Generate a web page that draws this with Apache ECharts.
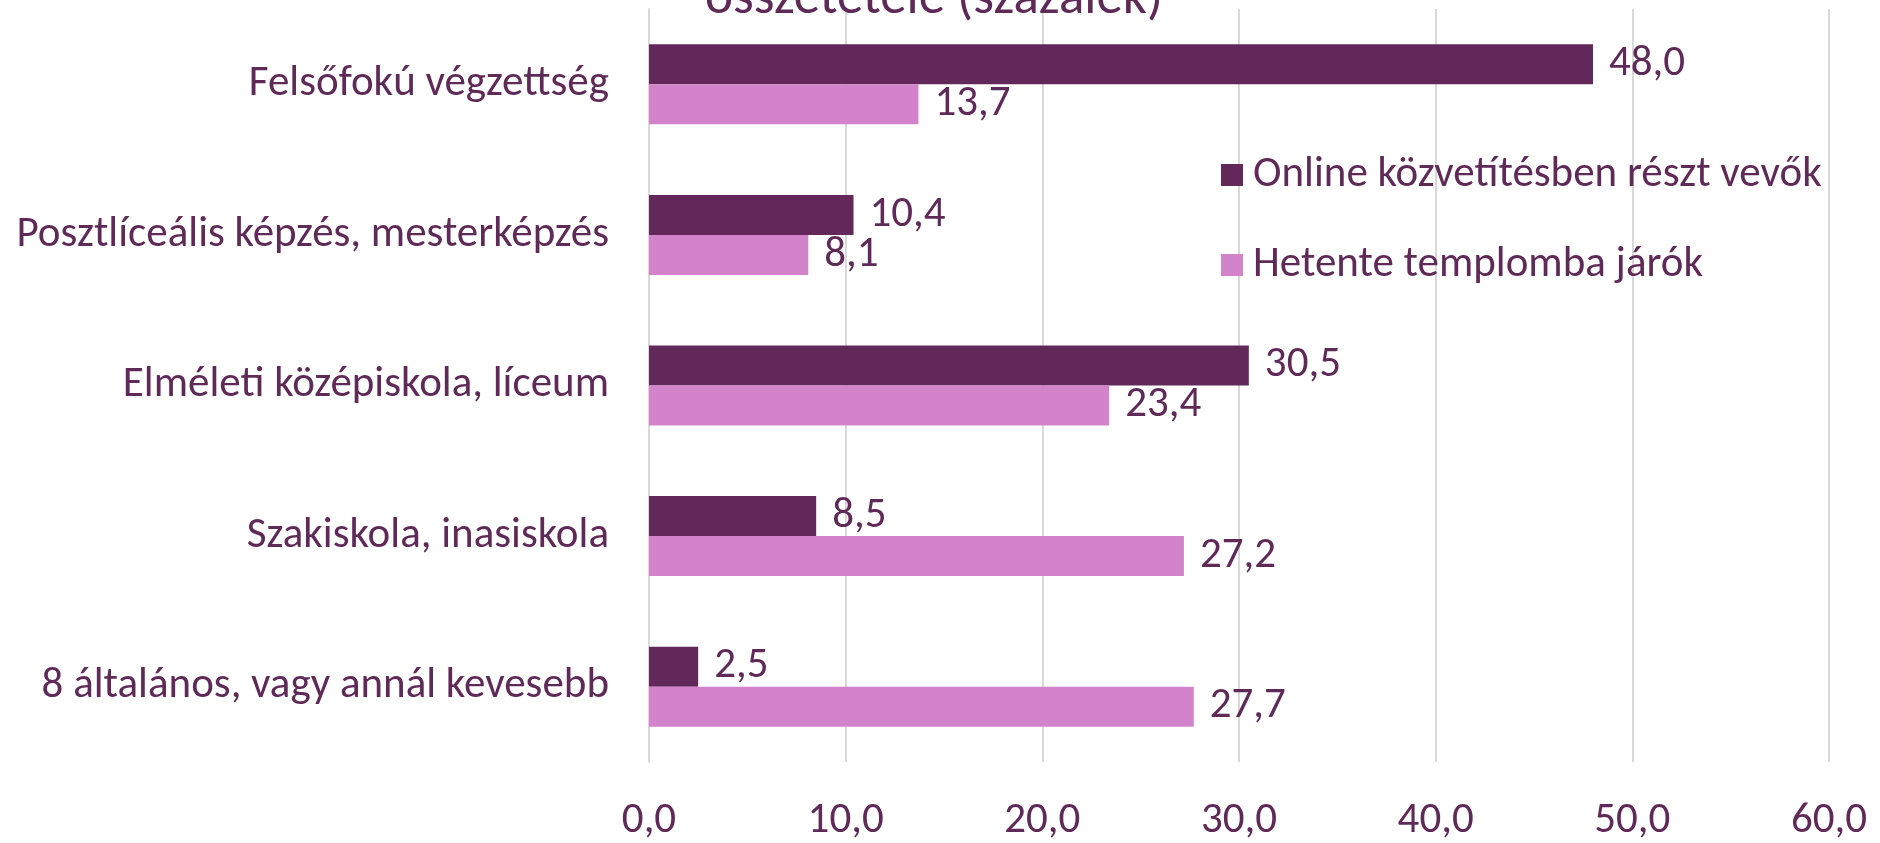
<!DOCTYPE html>
<html>
<head>
<meta charset="utf-8">
<script src="https://cdn.jsdelivr.net/npm/echarts@6/dist/echarts.min.js"></script>
<style>
  html, body { margin: 0; padding: 0; background: #fff; }
  #chart { width: 1880px; height: 843px; }
</style>
</head>
<body>
<div id="chart"></div>
<script>
// kategóriák (felülről lefelé)
const categories = [
  'Felsőfokú végzettség',
  'Posztlíceális képzés, mesterképzés',
  'Elméleti középiskola, líceum',
  'Szakiskola, inasiskola',
  '8 általános, vagy annál kevesebb'
]
const onlineValues = [48.0, 10.4, 30.5, 8.5, 2.5]
const templomValues = [13.7, 8.1, 23.4, 27.2, 27.7]
const seriesNames = ['Online közvetítésben részt vevők', 'Hetente templomba járók']
const xTicks = [0, 10, 20, 30, 40, 50, 60]

const FONT = 'Carlito, Calibri, Lato, sans-serif'
const TEXT = '#5f2a57'
const DARK = '#62285a'
const PINK = '#d383c9'
const FS = 43

const fmt = v => v.toFixed(1).replace('.', ',')

const chart = echarts.init(document.getElementById('chart'))

const labelStyle = {
  show: true,
  position: 'right',
  distance: 16,
  color: TEXT,
  fontFamily: FONT,
  fontSize: FS,
  padding: [6, 0, 0, 0],
  formatter: p => fmt(p.value)
}

chart.setOption({
  animation: false,
  textStyle: {fontFamily: FONT},
  title: {
    text: 'összetétele (százalék)',
    left: 929,
    textAlign: 'center',
    top: -32,
    textStyle: {color: TEXT, fontFamily: FONT, fontSize: 53, fontWeight: 'normal'}
  },
  legend: {
    orient: 'vertical',
    left: 1216,
    top: 143,
    itemWidth: 22,
    itemHeight: 22,
    itemGap: 36,
    icon: 'rect',
    textStyle: {color: TEXT, fontFamily: FONT, fontSize: FS, lineHeight: 50, padding: [4, 0, 0, 5]},
    data: seriesNames
  },
  grid: {left: 649, right: 51, top: 9, bottom: 76, containLabel: false},
  xAxis: {
    type: 'value',
    min: xTicks[0],
    max: xTicks[xTicks.length - 1],
    interval: 10,
    axisLine: {show: false},
    axisTick: {show: false},
    splitLine: {show: true, lineStyle: {color: '#d9d9d9', width: 2}},
    axisLabel: {color: TEXT, fontFamily: FONT, fontSize: FS, margin: 38, formatter: v => fmt(v)}
  },
  yAxis: {
    type: 'category',
    inverse: true,
    data: categories,
    axisLine: {show: true, lineStyle: {color: '#d9d9d9', width: 2}},
    axisTick: {show: false},
    axisLabel: {color: TEXT, fontFamily: FONT, fontSize: FS, margin: 40, padding: [4, 0, 0, 0]}
  },
  series: [
    {
      name: seriesNames[0],
      type: 'bar',
      data: onlineValues,
      barWidth: 40,
      barGap: '0%',
      itemStyle: {color: DARK},
      label: labelStyle
    },
    {
      name: seriesNames[1],
      type: 'bar',
      data: templomValues,
      barWidth: 40,
      barGap: '0%',
      itemStyle: {color: PINK},
      label: labelStyle
    }
  ]
})
</script>
</body>
</html>
